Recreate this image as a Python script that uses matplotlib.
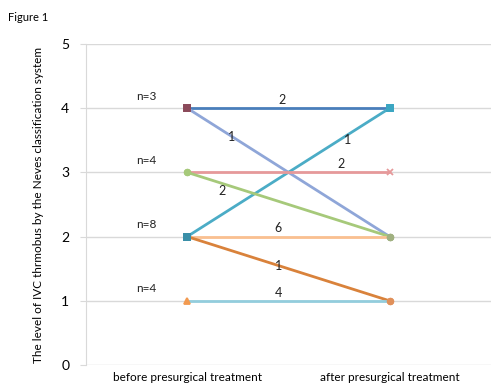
import matplotlib.pyplot as plt

# data
categories = ['before presurgical treatment', 'after presurgical treatment']
before = [4, 4, 3, 3, 2, 2, 2, 1]
after = [4, 2, 3, 2, 4, 2, 1, 1]
counts = [2, 1, 2, 2, 1, 6, 1, 4]
group_n = ['n=3', 'n=4', 'n=8', 'n=4']
group_level = [4, 3, 2, 1]

# styles
colors = ['#4A7EBB', '#8FA6D8', '#E6999A', '#A6C97A', '#4BACC6', '#FAC090', '#D9823B', '#93CDDD']
start_mk = [('s', '#8B4A5A'), ('s', '#8B4A5A'), ('o', '#A6C97A'), ('o', '#A6C97A'),
            ('s', '#3A8FA8'), ('s', '#3A8FA8'), ('s', '#3A8FA8'), ('^', '#F29A50')]
end_mk = [('s', '#3BA6C2'), ('o', '#A0B080'), ('x', '#E6999A'), ('o', '#A0B080'),
          ('s', '#3BA6C2'), ('o', '#A0B080'), ('o', '#E0905A'), ('o', '#E0905A')]
lab_frac = [0.47, 0.2, 0.76, 0.17, 0.76, 0.45, 0.45, 0.45]
lab_dx = [0, 0.02, 0, 0.0, 0.03, 0, 0, 0]
lab_dy = [0.13, -0.05, 0.13, -0.12, -0.02, 0.13, 0.0, 0.13]
draw_order = [0, 1, 4, 2, 3, 5, 6, 7]

plt.rcParams['font.family'] = ['Lato', 'DejaVu Sans']

fig = plt.figure(figsize=(4.96, 3.88), dpi=100)
ax = fig.add_axes([0.173, 0.059, 0.817, 0.828])

for i in draw_order:
    ax.plot([0, 1], [before[i], after[i]], color=colors[i], lw=2, solid_capstyle='butt', zorder=3)
for i in draw_order:
    m, c = start_mk[i]
    ax.plot(0, before[i], marker=m, color=c, markersize=4, mew=1.3, zorder=4)
    m, c = end_mk[i]
    ax.plot(1, after[i], marker=m, color=c, markersize=4, mew=1.3, zorder=4)

for i in range(len(counts)):
    f = lab_frac[i]
    x = f + lab_dx[i]
    y = before[i] + (after[i] - before[i]) * f + lab_dy[i]
    ax.text(x, y, str(counts[i]), ha='center', va='center', fontsize=9, color='#222222', zorder=5)

for txt, lv in zip(group_n, group_level):
    ax.text(-0.2, lv + 0.1, txt, ha='center', va='bottom', fontsize=8.5, color='#222222')

ax.set_xlim(-0.5, 1.5)
ax.set_ylim(0, 5)
ax.set_yticks(range(6))
ax.set_xticks([0, 1])
ax.set_xticklabels(categories, fontsize=8.5)
ax.tick_params(axis='y', labelsize=10, length=4, color='#D9D9D9', pad=8)
ax.tick_params(axis='x', length=0, pad=5)
ax.grid(axis='y', color='#D9D9D9', lw=1)
ax.set_axisbelow(True)
for s in ['top', 'right', 'bottom']:
    ax.spines[s].set_visible(False)
ax.spines['left'].set_color('#D9D9D9')
ax.set_ylabel('The level of IVC thrmobus by the Neves classification system', fontsize=8.5, labelpad=12)

fig.text(0.016, 0.945, 'Figure 1', fontsize=8)

fig.savefig('out.png', dpi=100)
